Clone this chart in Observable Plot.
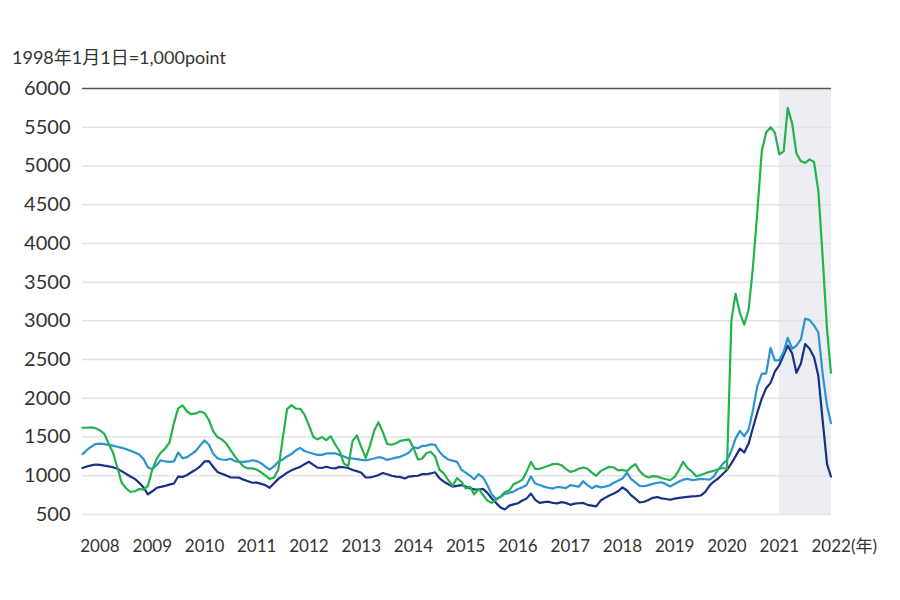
<!DOCTYPE html>
<html><head><meta charset="utf-8">
<script src="https://cdn.jsdelivr.net/npm/d3@7"></script>
<script src="https://cdn.jsdelivr.net/npm/@observablehq/plot@0.6"></script>
<style>
body{margin:0;background:#fff;font-family:Lato,"Noto Sans CJK JP",sans-serif;}
#wrap{width:900px;height:600px;position:relative;overflow:hidden;}
#title{position:absolute;left:12px;top:43px;font-size:18px;color:#333;white-space:nowrap;}
#chart{position:absolute;left:0;top:70px;}
</style></head><body>
<div id="wrap"><div id="title">1998年1月1日=1,000point</div><div id="chart"></div></div>
<script>
// monthly samples Sep 2007 .. Dec 2021, plus the last observation
const months = d3.utcMonth.range(new Date(Date.UTC(2007, 8, 1)), new Date(Date.UTC(2022, 0, 1)));
const dates = [...months, new Date(Date.UTC(2021, 11, 28))];

const yTicks = [500, 1000, 1500, 2000, 2500, 3000, 3500, 4000, 4500, 5000, 5500, 6000];
const xYears = [2008, 2009, 2010, 2011, 2012, 2013, 2014, 2015, 2016, 2017, 2018, 2019, 2020, 2021];
const xLastYear = [2022];
const lastYearLabel = "2022(年)";
const highlight = [{start: "2021-01-01", end: "2022-01-01"}];

const green = [
  /*2007*/ 1620, 1620, 1625, 1615,
  /*2008*/ 1585, 1540, 1420, 1300, 1110, 910, 840, 790, 800, 830, 820, 870,
  /*2009*/ 1080, 1220, 1300, 1350, 1430, 1680, 1870, 1910, 1830, 1795, 1805, 1830,
  /*2010*/ 1810, 1720, 1580, 1500, 1470, 1420, 1335, 1250, 1180, 1120, 1095, 1095,
  /*2011*/ 1080, 1045, 1005, 960, 975, 1080, 1470, 1860, 1911, 1868, 1865, 1790,
  /*2012*/ 1650, 1500, 1470, 1500, 1460, 1510, 1410, 1320, 1160, 1120, 1450, 1520,
  /*2013*/ 1370, 1230, 1380, 1580, 1690, 1560, 1410, 1400, 1420, 1450, 1460, 1470,
  /*2014*/ 1360, 1210, 1220, 1290, 1310, 1250, 1080, 1030, 944, 870, 970, 925,
  /*2015*/ 837, 858, 760, 830, 755, 680, 650, 690, 730, 790, 810, 890,
  /*2016*/ 915, 950, 1050, 1180, 1090, 1090, 1110, 1130, 1150, 1155, 1135, 1090,
  /*2017*/ 1051, 1065, 1090, 1107, 1090, 1040, 1000, 1060, 1090, 1115, 1107, 1070,
  /*2018*/ 1075, 1060, 1110, 1150, 1060, 1005, 978, 995, 990, 970, 955, 944,
  /*2019*/ 985, 1080, 1180, 1100, 1055, 990, 1010, 1030, 1050, 1065, 1085, 1100,
  /*2020*/ 1090, 3000, 3350, 3100, 2950, 3150, 3700, 4420, 5200, 5430, 5500, 5430,
  /*2021*/ 5150, 5190, 5750, 5550, 5160, 5060, 5040, 5085, 5050, 4680, 3800, 2880,
  /*end*/ 2330
];
const lightBlue = [
  /*2007*/ 1280, 1330, 1375, 1410,
  /*2008*/ 1415, 1408, 1400, 1390, 1375, 1360, 1345, 1322, 1300, 1275, 1215, 1110,
  /*2009*/ 1085, 1140, 1200, 1185, 1180, 1185, 1300, 1225, 1240, 1280, 1320, 1390,
  /*2010*/ 1455, 1400, 1290, 1225, 1210, 1205, 1220, 1190, 1180, 1180, 1185, 1200,
  /*2011*/ 1190, 1160, 1120, 1080, 1120, 1180, 1210, 1250, 1280, 1330, 1360, 1320,
  /*2012*/ 1300, 1285, 1270, 1270, 1288, 1290, 1290, 1270, 1250, 1225, 1223, 1215,
  /*2013*/ 1205, 1200, 1210, 1223, 1240, 1230, 1205, 1220, 1235, 1245, 1270, 1300,
  /*2014*/ 1370, 1355, 1385, 1390, 1405, 1400, 1310, 1250, 1210, 1195, 1180, 1080,
  /*2015*/ 1040, 1000, 955, 1020, 980, 880, 760, 700, 725, 765, 780, 795,
  /*2016*/ 830, 850, 880, 990, 900, 880, 860, 845, 835, 855, 850, 840,
  /*2017*/ 880, 870, 858, 930, 880, 840, 870, 850, 860, 875, 910, 935,
  /*2018*/ 965, 1040, 960, 915, 870, 865, 880, 895, 910, 915, 890, 862,
  /*2019*/ 895, 925, 950, 960, 945, 950, 960, 955, 950, 988, 1080, 1150,
  /*2020*/ 1203, 1320, 1480, 1580, 1510, 1600, 1850, 2160, 2320, 2320, 2650, 2490,
  /*2021*/ 2490, 2600, 2780, 2640, 2680, 2760, 3030, 3010, 2940, 2850, 2300, 1900,
  /*end*/ 1680
];
const navy = [
  /*2007*/ 1100, 1120, 1135, 1145,
  /*2008*/ 1140, 1130, 1122, 1110, 1090, 1060, 1025, 990, 960, 910, 850, 760,
  /*2009*/ 800, 845, 856, 870, 885, 900, 990, 985, 1010, 1045, 1080, 1120,
  /*2010*/ 1185, 1190, 1120, 1050, 1025, 1005, 980, 978, 975, 950, 930, 910,
  /*2011*/ 912, 895, 880, 845, 900, 960, 1000, 1040, 1070, 1094, 1115, 1150,
  /*2012*/ 1180, 1140, 1105, 1100, 1116, 1100, 1095, 1115, 1110, 1100, 1075, 1060,
  /*2013*/ 1040, 978, 978, 990, 1010, 1035, 1020, 1000, 990, 985, 965, 990,
  /*2014*/ 996, 1000, 1020, 1020, 1030, 1045, 970, 925, 890, 860, 870, 880,
  /*2015*/ 860, 837, 825, 820, 830, 780, 710, 650, 590, 565, 615, 630,
  /*2016*/ 645, 680, 705, 770, 690, 650, 660, 665, 650, 643, 660, 650,
  /*2017*/ 625, 640, 645, 650, 625, 615, 605, 680, 715, 745, 770, 800,
  /*2018*/ 850, 810, 750, 705, 655, 665, 686, 715, 725, 708, 700, 690,
  /*2019*/ 705, 715, 722, 728, 733, 738, 745, 790, 870, 925, 965, 1020,
  /*2020*/ 1074, 1160, 1250, 1350, 1300, 1420, 1620, 1820, 2000, 2130, 2200, 2345,
  /*2021*/ 2430, 2560, 2680, 2580, 2330, 2450, 2700, 2640, 2530, 2290, 1700, 1150,
  /*end*/ 990
];

const seriesNames = ["series A", "series B", "series C"];
const seriesColors = ["#18308a", "#2a93d0", "#25b14c"];
const seriesValues = [navy, lightBlue, green];

const rows = seriesNames.flatMap((name, k) =>
  dates.map((d, i) => ({date: d, value: seriesValues[k][i], series: name})));

const yearDate = y => new Date(Date.UTC(y, 0, 1));
const hl = highlight.map(h => ({start: new Date(h.start), end: new Date(h.end)}));

const chart = Plot.plot({
  width: 900,
  height: 530,
  marginTop: 18,
  marginBottom: 86,
  marginLeft: 82,
  marginRight: 69,
  style: {fontFamily: 'Lato, "Noto Sans CJK JP", sans-serif', color: "#333", background: "transparent"},
  x: {type: "utc", domain: [new Date(Date.UTC(2007, 8, 1)), new Date(Date.UTC(2022, 0, 1))], label: null},
  y: {domain: [500, 6000], label: null},
  color: {type: "ordinal", domain: seriesNames, range: seriesColors},
  marks: [
    Plot.rect(hl, {x1: "start", x2: "end", fill: "#eceef4"}),
    Plot.ruleY(yTicks.filter(t => t !== 6000), {stroke: "#e3e3e3", strokeWidth: 1.5}),
    Plot.ruleY(yTicks.filter(t => t === 6000), {stroke: "#555", strokeWidth: 1.5}),
    Plot.line(rows, {x: "date", y: "value", z: "series", stroke: "series", strokeWidth: 2.2, strokeLinejoin: "round"}),
    Plot.axisY(yTicks, {tickSize: 0, tickPadding: 12, fontSize: 20, fill: "#333", tickFormat: d => String(d)}),
    Plot.axisX(xYears.map(yearDate), {tickSize: 0, tickPadding: 25, fontSize: 17, fill: "#333", tickFormat: d => String(d.getUTCFullYear())}),
    Plot.axisX(xLastYear.map(yearDate), {tickSize: 0, tickPadding: 25, fontSize: 17, fill: "#333", textAnchor: "start", dx: -20, tickFormat: () => lastYearLabel})
  ]
});
document.getElementById("chart").appendChild(chart);
</script>
</body></html>
